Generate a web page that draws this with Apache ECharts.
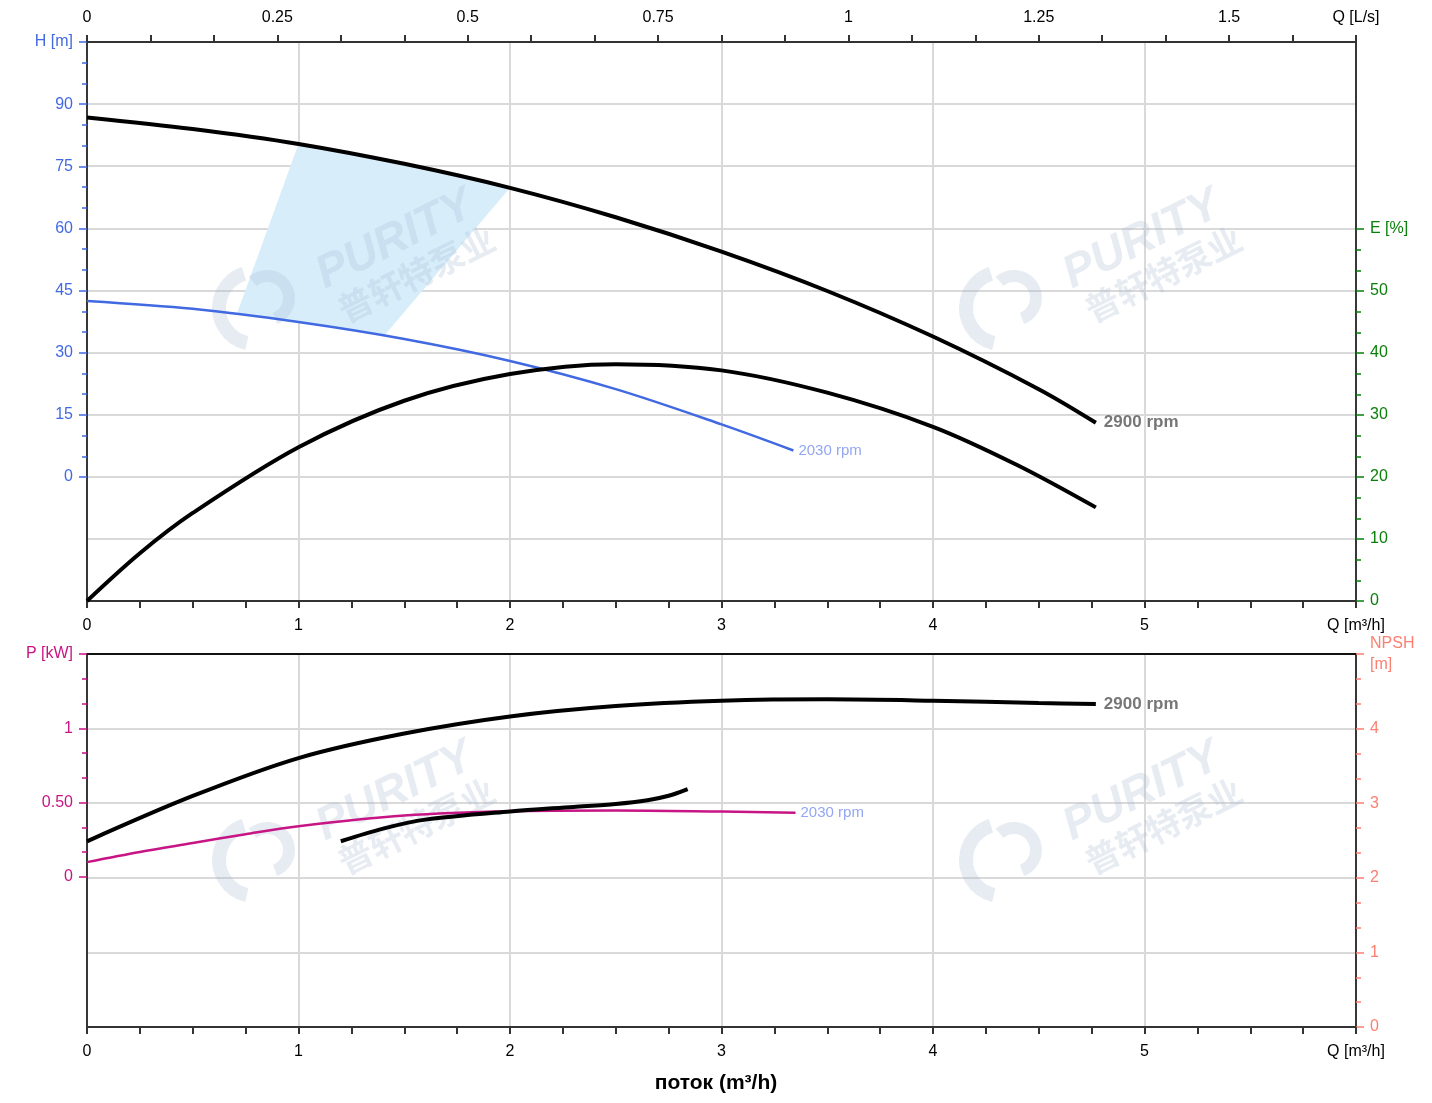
<!DOCTYPE html>
<html>
<head>
<meta charset="utf-8">
<script src="https://cdn.jsdelivr.net/npm/echarts@6/dist/echarts.min.js"></script>
<style>
  html, body { margin: 0; padding: 0; background: #fff; }
  #chart { width: 1432px; height: 1103px; }
</style>
</head>
<body>
<div id="chart"></div>
<script>
// flow Q in m3/h, head H in m, efficiency E in %, power P in kW, NPSH in m
const headQ2900 = [0, 0.5, 1, 1.5, 2, 2.5, 3, 3.5, 4, 4.5, 4.77];
const head2900 = [86.8, 84.0, 80.4, 75.6, 69.8, 62.7, 54.4, 44.9, 33.9, 21.2, 13.1];
const headQ2030 = [0, 0.5, 1, 1.5, 2, 2.5, 3, 3.34];
const head2030 = [42.5, 40.6, 37.4, 33.3, 28.0, 21.2, 12.7, 6.4];
const effQ2900 = [0, 0.25, 0.5, 1, 1.5, 2, 2.5, 3, 3.5, 4, 4.4, 4.77];
const eff2900 = [0, 7.7, 14.2, 24.8, 32.3, 36.6, 38.2, 37.2, 33.6, 28.1, 21.9, 15.1];
const powQ2900 = [0, 0.5, 1, 1.5, 2, 2.5, 3, 3.5, 4, 4.5, 4.77];
const pow2900 = [0.24, 0.545, 0.80, 0.965, 1.08, 1.15, 1.185, 1.195, 1.186, 1.171, 1.163];
const powQ2030 = [0, 0.25, 0.5, 0.75, 1, 1.5, 2, 2.5, 3, 3.35];
const pow2030 = [0.10, 0.168, 0.228, 0.288, 0.342, 0.413, 0.442, 0.447, 0.44, 0.433];
const npshQ = [1.2, 1.4, 1.6, 2, 2.3, 2.5, 2.65, 2.75, 2.84];
const npsh2900 = [2.49, 2.66, 2.78, 2.89, 2.95, 2.99, 3.04, 3.10, 3.19];
// operating range (shaded)
const rangeQ = [1, 1.5, 2, 1.41, 1.0, 0.71];
const rangeH = [80.4, 75.6, 69.8, 34.4, 37.4, 39.6];

const FONT = "'Liberation Sans', Arial, sans-serif";
const FS = 16;
const SMOOTH = 0.33;
const GRID_LINE = { show: true, lineStyle: { color: '#d9d9d9', width: 2 } };

function pairs(xs, ys) {
  return xs.map((x, i) => [x, ys[i]]);
}

function hiddenX(grid) {
  return { gridIndex: grid, type: 'value', min: 0, max: 6, show: false };
}

function flowAxis(grid) {
  return {
    gridIndex: grid, type: 'value', position: 'bottom', min: 0, max: 6, interval: 1,
    axisLine: { onZero: false, lineStyle: { color: '#333', width: 2 } },
    axisTick: { length: 7, lineStyle: { color: '#333', width: 2 } },
    minorTick: { show: true, splitNumber: 4, length: 7, lineStyle: { color: '#333', width: 2 } },
    axisLabel: {
      margin: 17, color: '#000', fontSize: FS, fontFamily: FONT,
      formatter: v => v >= 6 ? 'Q [m³/h]' : String(v)
    },
    splitLine: GRID_LINE
  };
}

function tickAxis(grid, pos, min, max, interval, color, fmt) {
  return {
    gridIndex: grid, type: 'value', position: pos, min: min, max: max, interval: interval,
    axisLine: { show: false, onZero: false },
    axisTick: { length: 8, lineStyle: { color: color, width: 1.5 } },
    minorTick: { show: true, splitNumber: 3, length: 5, lineStyle: { color: color, width: 1.5 } },
    axisLabel: { margin: 14, color: color, fontSize: FS, fontFamily: FONT, formatter: fmt },
    splitLine: { show: false }
  };
}

function frameAxis(grid, pos, extra) {
  return Object.assign({
    gridIndex: grid, type: 'value', position: pos, min: 0, max: 1,
    axisLine: { show: true, onZero: false, lineStyle: { color: '#000', width: 1.5 } },
    axisTick: { show: false }, axisLabel: { show: false }, splitLine: { show: false }
  }, extra || {});
}

function watermark(x, y) {
  const col = 'rgba(170,185,212,0.28)';
  return {
    type: 'group', x: x, y: y, silent: true, z: 3,
    children: [
      { type: 'arc', z: 3, shape: { cx: -140, cy: 68, r: 36, startAngle: 1.8, endAngle: 4.4, clockwise: true },
        style: { stroke: col, lineWidth: 14, fill: null } },
      { type: 'arc', z: 3, shape: { cx: -128, cy: 58, r: 22, startAngle: 4.0, endAngle: 1.2, clockwise: true },
        style: { stroke: col, lineWidth: 12, fill: null } },
      { type: 'group', rotation: 0.46, children: [
        { type: 'text', z: 3, x: 0, y: 0, style: { text: 'PURITY', font: "italic 900 46px " + FONT, fill: col, align: 'center', verticalAlign: 'middle' } },
        { type: 'text', z: 3, x: 4, y: 40, style: { text: '普轩特泵业', font: "bold 34px 'Noto Sans CJK SC', sans-serif", fill: col, align: 'center', verticalAlign: 'middle' } }
      ] }
    ]
  };
}

const chart = echarts.init(document.getElementById('chart'));

const npshAxis = tickAxis(3, 'right', 0, 5, 1, '#fa8072', v => v >= 5 ? 'NPSH\n[m]' : String(v));
npshAxis.axisLine = { show: true, onZero: false, lineStyle: { color: '#000', width: 1.5 } };
npshAxis.splitLine = GRID_LINE;
npshAxis.axisLabel.lineHeight = 21;
npshAxis.axisLabel.padding = [0, 0, 6, 0];

const option = {
  animation: false,
  backgroundColor: '#fff',
  textStyle: { fontFamily: FONT },
  grid: [
    { left: 87, width: 1269, top: 42, height: 559 },   // 0 head/eff frame
    { left: 87, width: 1269, top: 42, height: 435 },   // 1 head 0..105
    { left: 87, width: 1269, top: 229, height: 372 },  // 2 eff 0..60
    { left: 87, width: 1269, top: 654, height: 373 },  // 3 power frame + NPSH
    { left: 87, width: 1269, top: 654, height: 223 }   // 4 power 0..1.5
  ],
  xAxis: [
    flowAxis(0),
    {
      gridIndex: 0, type: 'value', position: 'top', min: 0, max: 6 / 3.6, interval: 1 / 12,
      axisLine: { onZero: false, lineStyle: { color: '#333', width: 2 } },
      axisTick: { length: 7, lineStyle: { color: '#333', width: 2 } },
      axisLabel: {
        margin: 16, color: '#000', fontSize: FS, fontFamily: FONT,
        formatter: function (v) {
          if (v > 1.6) return 'Q [L/s]';
          const k = v * 4;
          if (Math.abs(k - Math.round(k)) > 1e-6) return '';
          return String(Math.round(k) / 4);
        }
      },
      splitLine: { show: false }
    },
    hiddenX(1),
    hiddenX(2),
    flowAxis(3),
    frameAxis(3, 'top', { min: 0, max: 6, axisLine: { show: true, onZero: false, lineStyle: { color: '#111', width: 2 } } }),
    hiddenX(4)
  ],
  yAxis: [
    frameAxis(0, 'left', { min: -30, max: 105, interval: 15, splitLine: GRID_LINE }),
    frameAxis(0, 'right'),
    tickAxis(1, 'left', 0, 105, 15, '#4169e1', v => v >= 105 ? 'H [m]' : String(v)),
    tickAxis(2, 'right', 0, 60, 10, '#0a800a', v => v >= 60 ? 'E [%]' : String(v)),
    npshAxis,
    frameAxis(3, 'left'),
    tickAxis(4, 'left', 0, 1.5, 0.5, '#c71585', function (v) {
      if (v >= 1.5) return 'P [kW]';
      if (v === 0.5) return '0.50';
      return String(v);
    })
  ],
  graphic: [
    watermark(395, 240),
    watermark(1142, 240),
    watermark(395, 792),
    watermark(1142, 792),
    {
      type: 'text', left: 'center', top: 1073,
      style: { text: 'поток (m³/h)', font: 'bold 21px ' + FONT, fill: '#000' }
    }
  ],
  series: [
    {
      name: 'range', type: 'custom', xAxisIndex: 2, yAxisIndex: 2, z: 1,
      data: [[0]],
      renderItem: function (params, api) {
        const pts = rangeQ.map((q, i) => api.coord([q, rangeH[i]]));
        return { type: 'polygon', shape: { points: pts }, style: { fill: '#d7edfa' } };
      }
    },
    {
      name: 'H 2900', type: 'line', xAxisIndex: 2, yAxisIndex: 2, z: 5,
      data: pairs(headQ2900, head2900), smooth: SMOOTH, showSymbol: false,
      lineStyle: { color: '#000', width: 4 },
      endLabel: { show: true, formatter: '2900 rpm', color: '#777', fontWeight: 'bold', fontSize: 17, distance: 8 }
    },
    {
      name: 'H 2030', type: 'line', xAxisIndex: 2, yAxisIndex: 2, z: 4,
      data: pairs(headQ2030, head2030), smooth: SMOOTH, showSymbol: false,
      lineStyle: { color: '#4169e1', width: 2.5 },
      endLabel: { show: true, formatter: '2030 rpm', color: '#93a6f2', fontSize: 15, distance: 5 }
    },
    {
      name: 'E 2900', type: 'line', xAxisIndex: 3, yAxisIndex: 3, z: 5,
      data: pairs(effQ2900, eff2900), smooth: SMOOTH, showSymbol: false,
      lineStyle: { color: '#000', width: 4 }
    },
    {
      name: 'P 2900', type: 'line', xAxisIndex: 6, yAxisIndex: 6, z: 5,
      data: pairs(powQ2900, pow2900), smooth: SMOOTH, showSymbol: false,
      lineStyle: { color: '#000', width: 4 },
      endLabel: { show: true, formatter: '2900 rpm', color: '#777', fontWeight: 'bold', fontSize: 17, distance: 8 }
    },
    {
      name: 'P 2030', type: 'line', xAxisIndex: 6, yAxisIndex: 6, z: 4,
      data: pairs(powQ2030, pow2030), smooth: SMOOTH, showSymbol: false,
      lineStyle: { color: '#c71585', width: 2.5 },
      endLabel: { show: true, formatter: '2030 rpm', color: '#93a6f2', fontSize: 15, distance: 5 }
    },
    {
      name: 'NPSH 2900', type: 'line', xAxisIndex: 4, yAxisIndex: 4, z: 5,
      data: pairs(npshQ, npsh2900), smooth: SMOOTH, showSymbol: false,
      lineStyle: { color: '#000', width: 4 }
    }
  ]
};

chart.setOption(option);
</script>
</body>
</html>
